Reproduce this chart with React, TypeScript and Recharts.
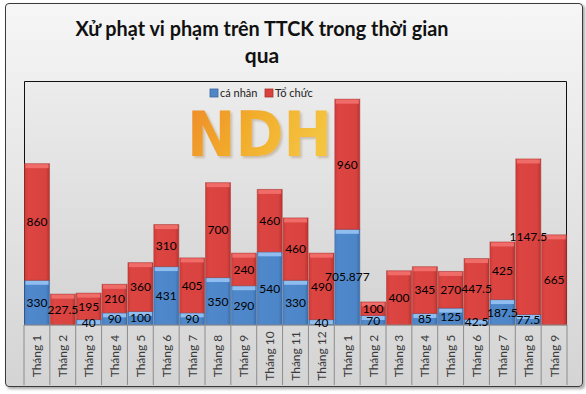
import React from "react"
import { BarChart, Bar, XAxis, YAxis, LabelList } from "recharts"

const categories = [
  "Tháng 1", "Tháng 2", "Tháng 3", "Tháng 4", "Tháng 5", "Tháng 6", "Tháng 7",
  "Tháng 8", "Tháng 9", "Tháng 10", "Tháng 11", "Tháng 12",
  "Tháng 1", "Tháng 2", "Tháng 3", "Tháng 4", "Tháng 5", "Tháng 6", "Tháng 7",
  "Tháng 8", "Tháng 9",
]
const caNhan: (number | null)[] = [
  330, null, 40, 90, 100, 431, 90, 350, 290, 540, 330, 40,
  705.877, 70, null, 85, 125, 42.5, 187.5, 77.5, null,
]
const toChuc = [
  860, 227.5, 195, 210, 360, 310, 405, 700, 240, 460, 460, 490,
  960, 100, 400, 345, 270, 447.5, 425, 1147.5, 665,
]
const yDomain = [0, 1800]

const data = categories.map((name, i) => ({ name, caNhan: caNhan[i], toChuc: toChuc[i] }))

const W = 586
const H = 394
const PLOT = { left: 24, right: 567, top: 81, bottom: 325 }
const AXIS_H = 60
const FONT = "Lato, 'Open Sans', sans-serif"

const BevelBar = (color: "red" | "blue") => (props: any) => {
  const { x, y, width, height } = props
  if (!height || height <= 0) return null
  const bevel = Math.min(4, height)
  const light = color === "red" ? "#f06c69" : "#8fbdf0"
  const edge = color === "red" ? "#a83431" : "#3b679e"
  return (
    <g>
      <rect x={x} y={y} width={width} height={height} fill={`url(#${color}Body)`} stroke={edge} strokeOpacity={0.5} />
      <rect x={x + 1} y={y + 0.5} width={width - 2} height={bevel} fill={light} />
    </g>
  )
}

const AxisTick = (props: any) => {
  const { x, payload, index } = props
  const half = (PLOT.right - PLOT.left) / categories.length / 2
  return (
    <g>
      <line x1={x - half} x2={x - half} y1={PLOT.bottom} y2={PLOT.bottom + AXIS_H} stroke="#8c8c8c" />
      {index === categories.length - 1 && (
        <line x1={x + half} x2={x + half} y1={PLOT.bottom} y2={PLOT.bottom + AXIS_H} stroke="#8c8c8c" />
      )}
      <text
        transform={`translate(${x},${PLOT.bottom + 31}) rotate(-90)`}
        textAnchor="middle"
        dominantBaseline="central"
        fontSize={12}
        fontFamily={FONT}
        fill="#3a3a3a"
      >
        {payload.value}
      </text>
    </g>
  )
}

const labelFmt = (v: any) => (v == null ? "" : v)

export default function App() {
  return (
    <div style={{ position: "absolute", left: 0, top: 0, width: W, height: H, background: "#fff" }}>
      <div
        style={{
          position: "absolute",
          left: 5,
          top: 3,
          width: 576,
          height: 382,
          border: "1px solid #3a3a3a",
          borderRadius: 4,
          background: "linear-gradient(#f6f6f6, #d4d4d4)",
          boxShadow: "2px 2px 3px rgba(0,0,0,0.35)",
        }}
      />
      <svg width={W} height={H} style={{ position: "absolute", left: 0, top: 0 }}>
        <defs>
          <linearGradient id="plotBg" x1="0" y1="0" x2="0" y2="1">
            <stop offset="0%" stopColor="#ececec" />
            <stop offset="100%" stopColor="#d3d3d3" />
          </linearGradient>
          <linearGradient id="logoFill" x1="0" y1="0" x2="1" y2="0.3">
            <stop offset="0%" stopColor="#ee8a28" />
            <stop offset="50%" stopColor="#f2ad2c" />
            <stop offset="100%" stopColor="#f4c440" />
          </linearGradient>
          <filter id="logoShadow" x="-10%" y="-10%" width="130%" height="130%">
            <feDropShadow dx="2" dy="2" stdDeviation="1" floodColor="#8a5a20" floodOpacity="0.3" />
          </filter>
        </defs>
        <rect x={PLOT.left} y={PLOT.top} width={PLOT.right - PLOT.left} height={PLOT.bottom - PLOT.top} fill="url(#plotBg)" />
        <path
          d={`M${PLOT.left + 0.5},${PLOT.bottom} V${PLOT.top + 0.5} H${PLOT.right - 0.5} V${PLOT.bottom}`}
          fill="none"
          stroke="#111"
        />
        <text
          x={187}
          y={156}
          fontSize={62}
          fontWeight={700}
          fontFamily="'DejaVu Sans', sans-serif"
          textLength={145}
          lengthAdjust="spacingAndGlyphs"
          fill="url(#logoFill)"
          filter="url(#logoShadow)"
        >
          NDH
        </text>
        <text x={262} y={36} textAnchor="middle" fontSize={21} fontWeight={700} fontFamily={FONT} fill="#111" textLength={373} lengthAdjust="spacingAndGlyphs">
          Xử phạt vi phạm trên TTCK trong thời gian
        </text>
        <text x={262} y={63} textAnchor="middle" fontSize={21} fontWeight={700} fontFamily={FONT} fill="#111">
          qua
        </text>
        <rect x={210} y={89} width={8} height={8} fill="#4f86c6" stroke="#3b679e" strokeWidth={0.8} />
        <text x={220} y={97} fontSize={11} fontFamily={FONT} fill="#222">cá nhân</text>
        <rect x={265} y={89} width={8} height={8} fill="#d8413e" stroke="#a83431" strokeWidth={0.8} />
        <text x={275} y={97} fontSize={11} fontFamily={FONT} fill="#222">Tổ chức</text>
      </svg>
      <div style={{ position: "absolute", left: 0, top: 0 }}>
        <BarChart
          width={W}
          height={H}
          data={data}
          margin={{ top: PLOT.top, right: W - PLOT.right, left: PLOT.left, bottom: H - PLOT.bottom - AXIS_H }}
          barCategoryGap="2%"
        >
          <defs>
            <linearGradient id="redBody" x1="0" y1="0" x2="1" y2="0">
              <stop offset="0%" stopColor="#cf3c39" />
              <stop offset="15%" stopColor="#dc4541" />
              <stop offset="85%" stopColor="#d8423f" />
              <stop offset="100%" stopColor="#b9332f" />
            </linearGradient>
            <linearGradient id="blueBody" x1="0" y1="0" x2="1" y2="0">
              <stop offset="0%" stopColor="#4a80c2" />
              <stop offset="15%" stopColor="#5089cb" />
              <stop offset="85%" stopColor="#4d86c8" />
              <stop offset="100%" stopColor="#3d6eab" />
            </linearGradient>
          </defs>
          <XAxis
            dataKey="name"
            interval={0}
            height={AXIS_H}
            tick={<AxisTick />}
            tickLine={false}
            axisLine={{ stroke: "#8c8c8c" }}
          />
          <YAxis hide domain={yDomain} />
          <Bar dataKey="caNhan" stackId="a" shape={BevelBar("blue")} isAnimationActive={false}>
            <LabelList dataKey="caNhan" position="center" fill="#000" fontSize={12} fontFamily={FONT} formatter={labelFmt} />
          </Bar>
          <Bar dataKey="toChuc" stackId="a" shape={BevelBar("red")} isAnimationActive={false}>
            <LabelList dataKey="toChuc" position="center" fill="#000" fontSize={12} fontFamily={FONT} formatter={labelFmt} />
          </Bar>
        </BarChart>
      </div>
    </div>
  )
}
